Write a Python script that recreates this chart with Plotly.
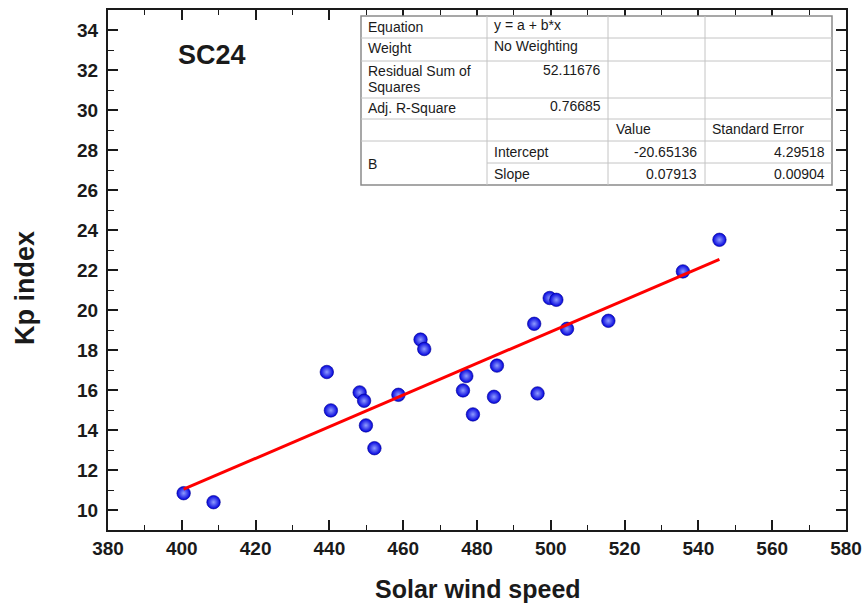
import plotly.graph_objects as go

# ---- data ----
solar_wind_speed = [400.5, 408.6, 439.3, 440.4, 448.2, 449.4, 449.9, 452.2,
                    458.7, 464.7, 465.7, 476.2, 477.1, 478.9, 484.6, 485.4,
                    495.5, 496.4, 499.7, 501.5, 504.4, 515.6, 535.8, 545.7]
kp_index = [10.84, 10.39, 16.90, 14.98, 15.88, 15.46, 14.23, 13.09,
            15.76, 18.52, 18.05, 15.98, 16.70, 14.78, 15.66, 17.22,
            19.31, 15.83, 20.60, 20.51, 19.06, 19.46, 21.93, 23.51]

# fit results shown in the table
equation = "y = a + b*x"
weighting = "No Weighting"
rss = "52.11676"
adj_r2 = "0.76685"
intercept = -20.65136
intercept_se = 4.29518
slope = 0.07913
slope_se = 0.00904

x_ticks = [380, 400, 420, 440, 460, 480, 500, 520, 540, 560, 580]
y_ticks = [10, 12, 14, 16, 18, 20, 22, 24, 26, 28, 30, 32, 34]

# ---- layout helpers (page pixel -> paper) ----
W, H = 866, 603
ML, MR, MT, MB = 108, 20, 10, 73
PW, PH = W - ML - MR, H - MT - MB


def px(x):
    return (x - ML) / PW


def py(y):
    return 1 - (y - MT) / PH


fig = go.Figure()

fit_x = [min(solar_wind_speed), max(solar_wind_speed)]
fit_y = [intercept + slope * v for v in fit_x]

fig.add_trace(go.Scatter(
    x=solar_wind_speed, y=kp_index, mode="markers",
    marker=dict(size=13.5, color="#0000dd",
                gradient=dict(type="radial", color="#8f9cff"),
                line=dict(width=0.6, color="#000090")),
    showlegend=False, hoverinfo="x+y"))

fig.add_trace(go.Scatter(
    x=fit_x, y=fit_y, mode="lines",
    line=dict(color="#ff0000", width=3), showlegend=False))

axis_common = dict(
    showline=True, linecolor="#1a1a1a", linewidth=2, mirror="ticks",
    ticks="inside", ticklen=10, tickwidth=1.6, tickcolor="#1a1a1a",
    showgrid=False, zeroline=False, automargin=False,
    tickfont=dict(family="Liberation Sans", size=19, color="#1a1a1a", weight="bold"),
)

fig.update_xaxes(range=[380, 580], tickvals=x_ticks,
                 ticktext=[str(v) for v in x_ticks],
                 minor=dict(dtick=10, tick0=380, ticks="inside", ticklen=5,
                            tickwidth=1.4, tickcolor="#1a1a1a", showgrid=False),
                 ticklabelstandoff=0, ticklabeloverflow="allow",
                 **axis_common)
fig.update_yaxes(range=[9, 35], tickvals=y_ticks,
                 ticktext=[str(v) for v in y_ticks],
                 minor=dict(dtick=1, tick0=9, ticks="inside", ticklen=6,
                            tickwidth=1.4, tickcolor="#1a1a1a", showgrid=False),
                 ticklabelstandoff=4,
                 **axis_common)

# ---- fit table drawn with shapes and text ----
cols = [361, 487, 608, 705, 832]
rows = [16, 38, 61, 98, 119, 141, 163, 185]
inner = "#c4c4c4"
shapes = []
shapes.append(dict(type="rect", xref="paper", yref="paper",
                   x0=px(cols[0]), x1=px(cols[-1]), y0=py(rows[0]), y1=py(rows[-1]),
                   line=dict(color="#8a8a8a", width=1.5), fillcolor="white", layer="above"))
for c in cols[1:-1]:
    shapes.append(dict(type="line", xref="paper", yref="paper",
                       x0=px(c), x1=px(c), y0=py(rows[0]), y1=py(rows[-1]),
                       line=dict(color=inner, width=1)))
for r in rows[1:-1]:
    x0 = cols[1] if r == rows[6] else cols[0]
    shapes.append(dict(type="line", xref="paper", yref="paper",
                       x0=px(x0), x1=px(cols[-1]), y0=py(r), y1=py(r),
                       line=dict(color=inner, width=1)))

tf = dict(family="Liberation Sans", size=14, color="#1a1a1a")
cells = [
    ("Equation", 367, 27, "left"),
    ("Weight", 367, 48, "left"),
    ("Residual Sum of", 367, 71, "left"),
    ("Squares", 367, 86.5, "left"),
    ("Adj. R-Square", 367, 108, "left"),
    ("B", 367, 164, "left"),
    (equation, 493, 25, "left"),
    (weighting, 493, 46, "left"),
    (rss, 602, 70, "right"),
    (adj_r2, 602, 106, "right"),
    ("Value", 615, 129, "left"),
    ("Standard Error", 711, 129, "left"),
    ("Intercept", 493, 152, "left"),
    (f"{intercept:.5f}", 698, 152, "right"),
    (f"{intercept_se:.5f}", 826, 152, "right"),
    ("Slope", 493, 174, "left"),
    (f"{slope:.5f}", 698, 174, "right"),
    (f"{slope_se:.5f}", 826, 174, "right"),
]
annotations = []
for text, x, y, anchor in cells:
    annotations.append(dict(text=text, xref="paper", yref="paper", x=px(x), y=py(y),
                            xanchor=anchor, yanchor="middle", showarrow=False,
                            borderpad=0, font=tf))

bold = dict(family="Liberation Sans", color="#1a1a1a", weight="bold")
annotations.append(dict(text="SC24", xref="paper", yref="paper", x=px(212), y=py(55),
                        xanchor="center", yanchor="middle", showarrow=False,
                        font=dict(size=27, **bold)))
annotations.append(dict(text="Solar wind speed", xref="paper", yref="paper",
                        x=px(478), y=py(589), xanchor="center", yanchor="middle",
                        showarrow=False, font=dict(size=25, **bold)))
annotations.append(dict(text="Kp index", xref="paper", yref="paper",
                        x=px(25), y=py(288), xanchor="center", yanchor="middle",
                        showarrow=False, textangle=-90, font=dict(size=27, **bold)))

fig.update_layout(
    width=W, height=H,
    margin=dict(l=ML, r=MR, t=MT, b=MB, autoexpand=False),
    paper_bgcolor="white", plot_bgcolor="white",
    shapes=shapes, annotations=annotations,
)

fig.write_html(
    "out.html",
    config={"displayModeBar": False, "responsive": False},
    post_script=("document.body.style.margin='0';"
                 "document.body.style.overflow='hidden';"
                 "document.documentElement.style.overflow='hidden';"),
)
